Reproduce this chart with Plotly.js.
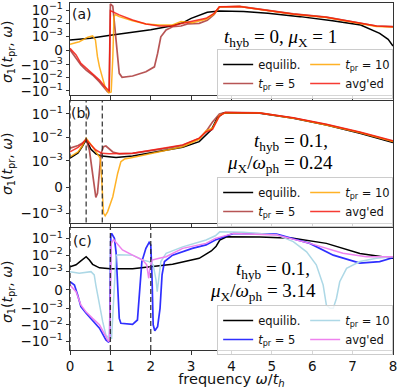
<!DOCTYPE html>
<html>
<head>
<meta charset="utf-8">
<script src="https://cdn.plot.ly/plotly-3.0.1.min.js"></script>
<style>
  html, body { margin: 0; padding: 0; background: #fff; }
  #chart { width: 399px; height: 389px; }
</style>
</head>
<body>
<div id="chart"></div>
<script>
// symlog scale like matplotlib (linthresh 1e-3, linscale 1)
const LIN_THRESH = 1e-3;
const LIN_SCALE = 1 / 0.9;
function symlog(v) {
    const a = Math.abs(v);
    if (a <= LIN_THRESH) return v / LIN_THRESH * LIN_SCALE;
    return Math.sign(v) * (LIN_SCALE + Math.log10(a / LIN_THRESH));
}

// ---- panel (a): t_hyb = 0, mu_X = 1
const wA_eq = [0, 0.5, 1, 1.5, 2, 2.5, 2.8, 3.0, 3.2, 3.4, 3.7, 4.3, 4.9, 5.7, 6.5, 7.2, 7.67, 7.88, 8.0];
const sA_eq = [7.3e-4, 8.5e-4, 1.15e-3, 1.8e-3, 3.1e-3, 5.9e-3, 1.07e-2, 2.3e-2, 4.2e-2, 6.8e-2, 8.5e-2, 7.8e-2, 5.6e-2, 3.1e-2, 1.5e-2, 7.1e-3, 1.6e-3, 7.7e-4, 3.1e-4];
const wA_t5 = [0, 0.15, 0.27, 0.4, 0.56, 0.73, 0.85, 0.93, 0.97, 1.0, 1.06, 1.12, 1.18, 1.22, 1.29, 1.55, 1.88, 2.09, 2.17, 2.25, 2.38, 2.54, 2.75, 2.91, 3.2, 3.4, 3.57, 3.7, 4.2, 4.7, 5.53, 6.35, 7.18, 7.59, 8.0];
const sA_t5 = [5e-5, -5.4e-4, -1.0e-3, -2.5e-3, -5.9e-3, -2e-2, -5.2e-2, -0.115, -0.12, 0.29, 0.2, 1.6e-3, -6.6e-4, -4.4e-3, -8.9e-3, -7.1e-3, -3.3e-3, -1.4e-3, -2e-4, 9.5e-4, 2.9e-3, 5.2e-3, 5.9e-3, 8.5e-3, 9.5e-3, 1.6e-2, 4.5e-2, 0.17, 0.19, 0.115, 0.05, 0.028, 9.5e-3, 5.9e-3, 5.2e-3];
const wA_t10 = [0, 0.23, 0.44, 0.56, 0.63, 0.68, 0.73, 0.79, 0.87, 0.96, 1.02, 1.06, 1.09, 1.12, 1.22, 1.55, 1.88, 2.21, 2.54, 2.75, 3.03, 3.37, 3.57, 3.7, 4.2, 4.7, 5.53, 6.35, 7.18, 7.59, 8.0];
const sA_t10 = [4.3e-4, 6.1e-4, 9.2e-4, 1.02e-3, 7.3e-4, -4.3e-4, -1.4e-3, -8.1e-3, -5.2e-2, -0.14, -0.12, -5e-4, 0.03, 0.045, 0.031, 0.015, 8.5e-3, 7.1e-3, 7.1e-3, 1.3e-2, 1.07e-2, 1.95e-2, 5e-2, 0.17, 0.185, 0.11, 0.048, 0.027, 9e-3, 5.5e-3, 5e-3];
const wA_avg = [0, 0.15, 0.27, 0.4, 0.56, 0.73, 0.85, 0.93, 0.97, 1.0, 1.06, 1.22, 1.55, 1.88, 2.21, 2.54, 2.71, 3.03, 3.37, 3.57, 3.7, 4.2, 4.7, 5.53, 6.35, 7.18, 7.59, 8.0];
const sA_avg = [1.5e-4, -3.1e-4, -8.9e-4, -1.8e-3, -4.4e-3, -1.45e-2, -4.2e-2, -8.5e-2, -0.1, 0.09, 0.074, 0.042, 0.017, 8.5e-3, 5.9e-3, 5.9e-3, 8.5e-3, 1.3e-2, 2.3e-2, 5.6e-2, 0.18, 0.19, 0.115, 0.05, 0.028, 9.5e-3, 5.9e-3, 5.2e-3];

// ---- panel (b): t_hyb = 0.1, mu_X/w_ph = 0.24
const wB_eq = [0, 0.2, 0.3, 0.4, 0.52, 0.64, 0.79, 1.14, 1.55, 1.96, 2.38, 2.79, 3.2, 3.5, 3.65, 3.8, 4.7, 5.53, 6.35, 7.18, 8.0];
const sB_eq = [1.3e-3, 2.2e-3, 4e-3, 7.8e-3, 3.1e-3, 2e-3, 1.6e-3, 1.4e-3, 1.6e-3, 2.1e-3, 2.7e-3, 3.8e-3, 6.6e-3, 2.1e-2, 6.8e-2, 0.11, 0.107, 0.065, 0.034, 0.015, 6e-3];
const wB_t5 = [0, 0.2, 0.3, 0.4, 0.48, 0.52, 0.56, 0.6, 0.64, 0.68, 0.73, 0.77, 0.83, 0.89, 1.06, 1.22, 1.55, 1.96, 2.38, 2.79, 3.2, 3.37, 3.53, 3.7, 3.85, 4.7, 5.53, 6.35, 7.18, 8.0];
const sB_t5 = [3.5e-3, 4.5e-3, 5.6e-3, 8.3e-3, 2.9e-3, 9.1e-4, 4e-4, -1.1e-4, -4e-4, -2.4e-4, 5.2e-4, 2.1e-3, 4e-3, 4.3e-3, 2.4e-3, 2e-3, 2.1e-3, 2.6e-3, 3.4e-3, 4.6e-3, 9e-3, 1.8e-2, 4.5e-2, 0.1, 0.115, 0.11, 0.067, 0.035, 0.016, 6.8e-3];
const wB_t10 = [0, 0.2, 0.3, 0.4, 0.56, 0.68, 0.75, 0.79, 0.83, 0.87, 0.93, 1.06, 1.18, 1.26, 1.35, 1.55, 1.96, 2.38, 2.79, 3.2, 3.37, 3.53, 3.7, 3.85, 4.7, 5.53, 6.35, 7.18, 8.0];
const sB_t10 = [1.5e-3, 2.4e-3, 4.2e-3, 9.3e-3, 4e-3, 2.1e-3, 1.3e-3, 1.4e-4, -1e-3, -1.3e-3, -9.5e-4, -3.7e-4, 5.2e-4, 9.7e-4, 1.2e-3, 1.4e-3, 2e-3, 2.7e-3, 4e-3, 8.3e-3, 1.9e-2, 2.5e-2, 0.085, 0.112, 0.108, 0.066, 0.034, 0.016, 6.6e-3];
const wB_avg = [0, 0.2, 0.3, 0.4, 0.52, 0.64, 0.79, 0.97, 1.55, 1.96, 2.38, 2.79, 3.2, 3.37, 3.53, 3.7, 3.85, 4.7, 5.53, 6.35, 7.18, 8.0];
const sB_avg = [2.4e-3, 3.8e-3, 5.2e-3, 8.3e-3, 4.8e-3, 2.9e-3, 2.1e-3, 2e-3, 2.1e-3, 2.7e-3, 3.5e-3, 4.8e-3, 9.3e-3, 1.7e-2, 2.2e-2, 0.08, 0.115, 0.11, 0.068, 0.036, 0.017, 7.2e-3];

// ---- panel (c): t_hyb = 0.1, mu_X/w_ph = 3.14
const wC_eq = [0, 0.15, 0.27, 0.4, 0.48, 0.56, 0.73, 1.0, 1.55, 2.0, 2.54, 3.2, 3.5, 3.62, 3.71, 3.88, 4.7, 5.53, 6.35, 7.18, 8.0];
const sC_eq = [2e-3, 2.6e-3, 4.5e-3, 8.1e-3, 5.1e-3, 2.8e-3, 1.7e-3, 1.5e-3, 1.5e-3, 2e-3, 2.8e-3, 6.5e-3, 1.8e-2, 3.5e-2, 8.3e-2, 0.13, 0.125, 0.105, 0.052, 1.26e-2, 6.5e-3];
const wC_t5 = [0, 0.11, 0.19, 0.27, 0.4, 0.56, 0.73, 0.89, 0.95, 0.98, 1.01, 1.03, 1.1, 1.14, 1.18, 1.22, 1.26, 1.55, 1.67, 1.72, 1.78, 1.88, 1.96, 2.0, 2.03, 2.06, 2.1, 2.17, 2.23, 2.28, 2.34, 2.54, 3.03, 3.37, 3.6, 4.05, 5.12, 5.94, 6.52, 7.18, 7.67, 8.0];
const sC_t5 = [4.5e-4, 2.7e-4, -2.7e-4, -9.1e-4, -2e-3, -5.1e-3, -1.6e-2, -8.3e-2, -0.11, -0.1, 0.15, 0.21, 0.105, 1.6e-2, -9e-5, -4.1e-3, -8.1e-3, -9.3e-3, -5.1e-3, -9e-5, 4.1e-3, 2.6e-2, 6e-2, 4.2e-2, 8.2e-4, -1e-2, -2.3e-2, -1.3e-2, -1e-3, 8.2e-4, 4.1e-3, 1e-2, 2.6e-2, 4.2e-2, 8.3e-2, 0.21, 0.19, 0.052, 1e-2, 3.3e-3, 4.1e-3, 7e-3];
const wC_t10 = [0, 0.23, 0.52, 0.6, 0.64, 0.73, 0.81, 0.89, 0.97, 1.03, 1.07, 1.11, 1.14, 1.22, 1.39, 1.55, 1.8, 1.96, 2.06, 2.13, 2.16, 2.2, 2.25, 2.38, 2.79, 3.37, 3.6, 3.71, 4.29, 5.12, 5.53, 5.86, 6.1, 6.27, 6.35, 6.44, 6.52, 6.6, 6.68, 6.85, 7.18, 7.59, 8.0];
const sC_t10 = [1e-3, 9.1e-4, 1e-3, 8.2e-4, 2.7e-4, -8.2e-4, -6.5e-3, -4.2e-2, -6.6e-2, -6.6e-2, -1.6e-3, 8.2e-4, 1e-2, 1.05e-2, 1.05e-2, 1e-2, 5.1e-3, 4.1e-3, 2.6e-3, 5.5e-4, -9e-5, 6.4e-4, 4.1e-3, 1.3e-2, 3.2e-2, 8.3e-2, 0.15, 0.26, 0.25, 0.17, 0.066, 1.6e-2, 2.6e-3, 2.7e-4, -8.2e-4, -1e-3, -1e-3, -4.5e-4, 4.5e-4, 1.6e-3, 4.1e-3, 6.5e-3, 8.1e-3];
const wC_avg = [0, 0.15, 0.27, 0.4, 0.56, 0.73, 0.89, 0.95, 0.98, 1.02, 1.08, 1.3, 1.55, 1.8, 1.9, 1.95, 1.98, 2.03, 2.21, 2.38, 2.79, 3.37, 3.6, 4.05, 5.12, 5.94, 6.76, 7.34, 8.0];
const sC_avg = [2.7e-4, -9e-5, -8.2e-4, -1.7e-3, -4.1e-3, -1e-2, -5.2e-2, -0.1, -0.09, 0.05, 0.09, 2.1e-2, 1e-2, 5.1e-3, 2.6e-3, 6.4e-4, 1.6e-3, 5.1e-3, 6.5e-3, 8.1e-3, 2.6e-2, 5.2e-2, 0.105, 0.21, 0.17, 0.052, 1.3e-2, 8.1e-3, 8.1e-3];

// phonon frequencies (dashed guides)
const phononB = [0, 0.4, 0.8];
const phononC = [0, 1, 2];

const legendNames = ['equilib.', '<i>t</i><sub>pr</sub> = 5', '<i>t</i><sub>pr</sub> = 10', "avg'ed"];
const legendRanks = [1, 3, 2, 4];   // two columns: equilib./t5 left, t10/avg right
const colorsAB = ['#000000', 'rgba(165,42,42,0.8)', 'rgba(255,165,0,0.85)', 'rgba(245,25,15,0.85)'];
const colorsC = ['#000000', 'rgba(10,10,255,0.85)', '#add8e6', '#ee82ee'];

const yTickVals = [-1e-1, -1e-2, -1e-3, 0, 1e-3, 1e-2, 1e-1];
const yTickText = ['\u221210<sup>\u22121</sup>', '\u221210<sup>\u22122</sup>', '\u221210<sup>\u22123</sup>', '0',
                   '10<sup>\u22123</sup>', '10<sup>\u22122</sup>', '10<sup>\u22121</sup>'];

// pixel -> paper helpers (plot area: x 70..393, y 3..350)
const L = 70, W = 323, B = 350, H = 347;
const px = x => (x - L) / W;
const py = y => (B - y) / H;

function panelTraces(ws, ss, colors, xa, ya, leg) {
    return ws.map((w, i) => ({
        x: w,
        y: ss[i].map(symlog),
        type: 'scatter',
        mode: 'lines',
        name: legendNames[i],
        legendrank: legendRanks[i],
        legend: leg,
        xaxis: xa, yaxis: ya,
        line: { color: colors[i], width: i === 1 ? 1.7 : 1.5 },
        hoverinfo: 'skip'
    }));
}

const traces = [
    ...panelTraces([wA_eq, wA_t5, wA_t10, wA_avg], [sA_eq, sA_t5, sA_t10, sA_avg], colorsAB, 'x', 'y', 'legend'),
    ...panelTraces([wB_eq, wB_t5, wB_t10, wB_avg], [sB_eq, sB_t5, sB_t10, sB_avg], colorsAB, 'x2', 'y2', 'legend2'),
    ...panelTraces([wC_eq, wC_t5, wC_t10, wC_avg], [sC_eq, sC_t5, sC_t10, sC_avg], colorsC, 'x3', 'y3', 'legend3')
];

const tickFont = { family: 'DejaVu Sans', size: 13.5, color: '#111' };
const axisLine = { showline: true, mirror: true, linecolor: '#333', linewidth: 1,
                   ticks: 'outside', ticklen: 3.5, tickwidth: 1, tickcolor: '#333',
                   showgrid: false, zeroline: false, tickfont: tickFont };

function xAxis(domainAnchor, showLabels) {
    return Object.assign({}, axisLine, {
        range: [0, 8], tickvals: [0, 1, 2, 3, 4, 5, 6, 7, 8],
        showticklabels: showLabels, anchor: domainAnchor, domain: [0, 1]
    });
}
function yAxis(range, domain, full) {
    const vals = full ? yTickVals : yTickVals.slice(2);
    const text = full ? yTickText : yTickText.slice(2);
    return Object.assign({}, axisLine, {
        range: range, domain: domain,
        tickvals: vals.map(symlog), ticktext: text
    });
}

function legendBox(topPx) {
    return {
        x: 1.0005, xanchor: 'right', y: py(topPx), yanchor: 'top',
        orientation: 'h', entrywidth: 42, traceorder: 'normal',
        font: { family: 'DejaVu Sans', size: 11.5, color: '#111' },
        bgcolor: 'rgba(255,255,255,0.8)', bordercolor: '#cccccc', borderwidth: 1,
        itemwidth: 30
    };
}

const serif = { family: 'Liberation Serif', size: 19, color: '#000' };
const note = (text, cx, cy) => ({ text: text, xref: 'paper', yref: 'paper', x: px(cx), y: py(cy),
    xanchor: 'center', yanchor: 'middle', showarrow: false, font: serif });
const yTitle = 'σ<sub>1</sub>(<i>t</i><sub>pr</sub>, <i>ω</i>)';
const ylab = cy => ({ text: yTitle.replace('σ', '<i>σ</i>'), xref: 'paper', yref: 'paper', x: px(8), y: py(cy),
    xanchor: 'center', yanchor: 'middle', textangle: -90, showarrow: false,
    font: { family: 'DejaVu Sans', size: 14, color: '#111' } });
const tag = (text, cx, cy) => ({ text: text, xref: 'paper', yref: 'paper', x: px(cx), y: py(cy),
    xanchor: 'center', yanchor: 'middle', showarrow: false,
    font: { family: 'DejaVu Sans', size: 14, color: '#111' } });

const guide = (w, xa, ya) => ({ type: 'line', xref: xa, yref: ya + ' domain', x0: w, x1: w, y0: 0, y1: 1,
    line: { color: 'rgba(40,40,40,0.9)', width: 1.3, dash: '5px,3px' } });

const layout = {
    width: 399, height: 389,
    margin: { l: L, r: 399 - L - W, t: 3, b: 389 - B, autoexpand: false },
    paper_bgcolor: '#fff', plot_bgcolor: '#fff',
    font: { family: 'DejaVu Sans', color: '#111' },
    showlegend: true,
    xaxis: xAxis('y', false),
    xaxis2: xAxis('y2', false),
    xaxis3: Object.assign(xAxis('y3', true), {
        title: { text: 'frequency <i>ω</i>/<i>t<sub>h</sub></i>', font: { family: 'DejaVu Sans', size: 14.5, color: '#111' }, standoff: 6 }
    }),
    yaxis: Object.assign(yAxis([-3.42, 3.65], [py(95), 1], true), { anchor: 'x' }),
    yaxis2: Object.assign(yAxis([-1.51, 3.66], [py(222.5), py(101)], false), { anchor: 'x2' }),
    yaxis3: Object.assign(yAxis([-3.64, 3.76], [0, py(228)], true), { anchor: 'x3' }),
    legend: legendBox(49),
    legend2: legendBox(177),
    legend3: legendBox(305),
    shapes: [...phononB.map(w => guide(w, 'x2', 'y2')), ...phononC.map(w => guide(w, 'x3', 'y3'))],
    annotations: [
        note('<i>t</i><sub>hyb</sub> = 0, <i>μ</i><sub>X</sub> = 1', 280, 38),
        note('<i>t</i><sub>hyb</sub> = 0.1,', 291, 142),
        note('<i>μ</i><sub>X</sub>/<i>ω</i><sub>ph</sub> = 0.24', 280, 164),
        note('<i>t</i><sub>hyb</sub> = 0.1,', 273, 270),
        note('<i>μ</i><sub>X</sub>/<i>ω</i><sub>ph</sub> = 3.14', 263, 292),
        ylab(52), ylab(164), ylab(292),
        tag('(a)', 82, 14), tag('(b)', 81, 113), tag('(c)', 82, 241)
    ]
};

Plotly.newPlot('chart', traces, layout, { displayModeBar: false, staticPlot: true });
</script>
</body>
</html>
